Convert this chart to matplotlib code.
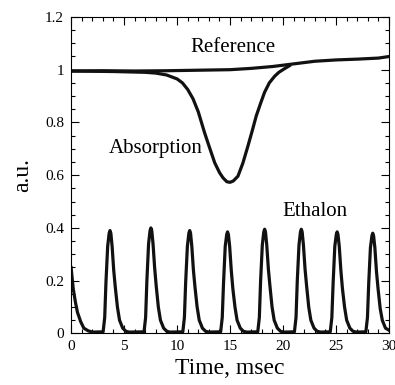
import matplotlib.pyplot as plt
from matplotlib.ticker import MultipleLocator

plt.rcParams['font.family'] = ['Liberation Serif', 'DejaVu Serif']

# Reference beam (flat, slight rise at the end)
ref_t = [0, 3, 6, 9, 12, 15, 17, 19, 21, 23, 25, 27, 29, 30]
ref_v = [0.995, 0.996, 0.995, 0.996, 0.998, 1.0, 1.005, 1.012, 1.022,
         1.032, 1.037, 1.040, 1.044, 1.05]

# Absorption dip
abs_t = [0, 4, 7, 8, 9, 10, 10.5, 11, 11.5, 12, 12.6, 13.1, 13.55, 14,
         14.33, 14.7, 15, 15.3, 15.74, 16.2, 16.68, 17.1, 17.47, 17.9,
         18.25, 18.7, 19.2, 19.6, 20.1, 20.6]
abs_v = [0.995, 0.993, 0.99, 0.987, 0.98, 0.965, 0.95, 0.925, 0.89, 0.84,
         0.76, 0.70, 0.647, 0.61, 0.59, 0.575, 0.573, 0.578, 0.596, 0.645,
         0.71, 0.77, 0.825, 0.875, 0.914, 0.95, 0.975, 0.99, 1.003, 1.015]

# Ethalon fringes
eth_t = [0, 0.1, 0.2, 0.4, 0.6, 0.9, 1.2, 1.6, 2.0,
         3.02, 3.17, 3.29, 3.45, 3.59, 3.67, 3.75, 3.87, 4.02, 4.17, 4.37, 4.57, 4.87, 5.17, 5.47,
         6.88, 7.03, 7.15, 7.31, 7.45, 7.53, 7.61, 7.73, 7.88, 8.03, 8.23, 8.43, 8.73, 9.03, 9.33,
         10.54, 10.69, 10.81, 10.97, 11.11, 11.19, 11.27, 11.39, 11.54, 11.69, 11.89, 12.09, 12.39, 12.69, 12.99,
         14.11, 14.26, 14.38, 14.54, 14.68, 14.76, 14.84, 14.96, 15.11, 15.26, 15.46, 15.66, 15.96, 16.26, 16.56,
         17.61, 17.76, 17.88, 18.04, 18.18, 18.26, 18.34, 18.46, 18.61, 18.76, 18.96, 19.16, 19.46, 19.76, 20.06,
         21.07, 21.22, 21.34, 21.50, 21.64, 21.72, 21.80, 21.92, 22.07, 22.22, 22.42, 22.62, 22.92, 23.22, 23.52,
         24.45, 24.60, 24.72, 24.88, 25.02, 25.10, 25.18, 25.30, 25.45, 25.60, 25.80, 26.00, 26.30, 26.60, 26.90,
         27.81, 27.96, 28.08, 28.24, 28.38, 28.46, 28.54, 28.66, 28.81, 28.96, 29.16, 29.36, 29.66, 30.0]
eth_v = [0.25, 0.21, 0.17, 0.12, 0.08, 0.045, 0.02, 0.01, 0.005,
         0.006, 0.06, 0.195, 0.33, 0.38, 0.39, 0.38, 0.33, 0.24, 0.175, 0.10, 0.05, 0.02, 0.008, 0.005,
         0.006, 0.06, 0.20, 0.34, 0.39, 0.40, 0.39, 0.34, 0.25, 0.18, 0.10, 0.05, 0.02, 0.008, 0.005,
         0.006, 0.06, 0.195, 0.33, 0.38, 0.39, 0.38, 0.33, 0.24, 0.175, 0.10, 0.05, 0.02, 0.008, 0.005,
         0.006, 0.06, 0.19, 0.33, 0.375, 0.385, 0.375, 0.33, 0.24, 0.17, 0.10, 0.05, 0.02, 0.008, 0.005,
         0.006, 0.06, 0.20, 0.335, 0.385, 0.395, 0.385, 0.335, 0.245, 0.18, 0.10, 0.05, 0.02, 0.008, 0.005,
         0.006, 0.06, 0.20, 0.335, 0.385, 0.395, 0.385, 0.335, 0.245, 0.18, 0.10, 0.05, 0.02, 0.008, 0.005,
         0.006, 0.06, 0.19, 0.33, 0.375, 0.385, 0.375, 0.33, 0.24, 0.17, 0.10, 0.05, 0.02, 0.008, 0.005,
         0.006, 0.06, 0.19, 0.325, 0.37, 0.38, 0.37, 0.325, 0.235, 0.17, 0.095, 0.05, 0.02, 0.012]

x_ticks = [0, 5, 10, 15, 20, 25, 30]
y_ticks = [0, 0.2, 0.4, 0.6, 0.8, 1.0, 1.2]
y_tick_labels = ['0', '0.2', '0.4', '0.6', '0.8', '1', '1.2']

fig = plt.figure(figsize=(3.95, 3.85), dpi=100)
ax = fig.add_axes([0.18, 0.134, 0.805, 0.822])

lw = 2.3
ax.plot(ref_t, ref_v, color='#111111', lw=lw)
ax.plot(abs_t, abs_v, color='#111111', lw=lw)
ax.plot(eth_t, eth_v, color='#111111', lw=lw)

ax.text(15.3, 1.086, 'Reference', fontsize=15, ha='center', va='center')
ax.text(7.95, 0.70, 'Absorption', fontsize=15, ha='center', va='center')
ax.text(23.0, 0.463, 'Ethalon', fontsize=15, ha='center', va='center')

ax.set_xlim(0, 30)
ax.set_ylim(0, 1.2)
ax.set_xticks(x_ticks)
ax.set_yticks(y_ticks)
ax.set_yticklabels(y_tick_labels)
ax.xaxis.set_minor_locator(MultipleLocator(1))
ax.yaxis.set_minor_locator(MultipleLocator(0.05))
ax.tick_params(which='both', direction='in', top=True, right=True,
               labelsize=11, width=0.8)
ax.tick_params(which='major', length=6, pad=5)
ax.tick_params(which='minor', length=3)
for s in ax.spines.values():
    s.set_linewidth(0.8)

ax.set_xlabel('Time, msec', fontsize=17, labelpad=3)
ax.set_ylabel('a.u.', fontsize=17, labelpad=9)

fig.savefig('out.png', dpi=100)
